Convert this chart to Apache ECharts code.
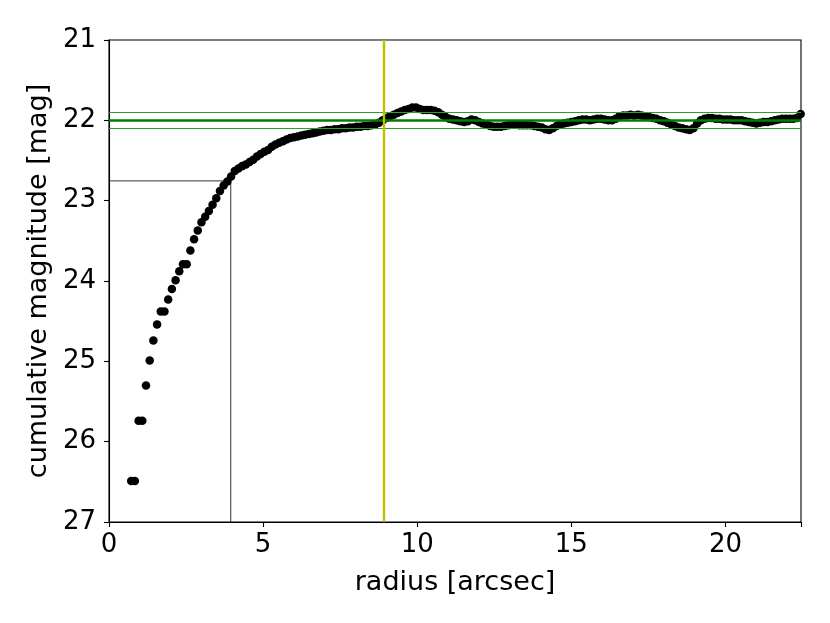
<!DOCTYPE html>
<html>
<head>
<meta charset="utf-8">
<script src="https://cdn.jsdelivr.net/npm/echarts@6/dist/echarts.min.js"></script>
<style>
html,body{margin:0;padding:0;background:#fff;}
#chart{width:830px;height:623px;}
</style>
</head>
<body>
<div id="chart"></div>
<script>
// radius [arcsec]
const radius = [
 0.72,0.84,0.96,1.08,1.20,1.32,1.44,1.56,1.68,1.80,1.92,2.04,2.16,2.28,2.40,2.52,2.64,2.76,2.88,3.00,
 3.12,3.24,3.36,3.48,3.60,3.72,3.84,3.96,4.08,4.20,4.32,4.44,4.56,4.68,4.80,4.92,5.04,5.16,5.28,5.40,
 5.52,5.64,5.76,5.88,6.00,6.12,6.24,6.36,6.48,6.60,6.72,6.84,6.96,7.08,7.20,7.32,7.44,7.56,7.68,7.80,
 7.92,8.04,8.16,8.28,8.40,8.52,8.64,8.76,8.88,9.00,9.12,9.24,9.36,9.48,9.60,9.72,9.84,9.96,10.08,10.20,
 10.32,10.44,10.56,10.68,10.80,10.92,11.04,11.16,11.28,11.40,11.52,11.64,11.76,11.88,12.00,12.12,12.24,12.36,12.48,12.60,
 12.72,12.84,12.96,13.08,13.20,13.32,13.44,13.56,13.68,13.80,13.92,14.04,14.16,14.28,14.40,14.52,14.64,14.76,14.88,15.00,
 15.12,15.24,15.36,15.48,15.60,15.72,15.84,15.96,16.08,16.20,16.32,16.44,16.56,16.68,16.80,16.92,17.04,17.16,17.28,17.40,
 17.52,17.64,17.76,17.88,18.00,18.12,18.24,18.36,18.48,18.60,18.72,18.84,18.96,19.08,19.20,19.32,19.44,19.56,19.68,19.80,
 19.92,20.04,20.16,20.28,20.40,20.52,20.64,20.76,20.88,21.00,21.12,21.24,21.36,21.48,21.60,21.72,21.84,21.96,22.08,22.20,
 22.32,22.44
];
// cumulative magnitude [mag]
const cumMag = [
 26.49,26.49,25.74,25.74,25.30,24.99,24.74,24.54,24.38,24.38,24.23,24.10,23.99,23.88,23.79,23.79,23.62,23.48,23.37,23.27,
 23.20,23.13,23.05,22.97,22.88,22.81,22.76,22.70,22.63,22.60,22.57,22.55,22.52,22.49,22.45,22.42,22.39,22.37,22.33,22.30,
 22.28,22.26,22.24,22.22,22.21,22.20,22.19,22.18,22.17,22.16,22.15,22.14,22.13,22.12,22.12,22.11,22.11,22.10,22.10,22.09,
 22.09,22.08,22.08,22.07,22.07,22.06,22.05,22.03,22.00,21.97,21.95,21.93,21.91,21.89,21.87,21.86,21.84,21.84,21.86,21.87,
 21.87,21.87,21.88,21.90,21.93,21.96,21.98,21.99,22.00,22.01,22.02,22.01,21.99,22.00,22.02,22.04,22.05,22.07,22.08,22.08,
 22.08,22.07,22.06,22.05,22.05,22.06,22.06,22.06,22.06,22.07,22.08,22.09,22.11,22.12,22.10,22.07,22.05,22.04,22.03,22.02,
 22.01,22.00,21.99,21.99,22.00,21.99,21.98,21.98,21.99,22.00,22.00,21.98,21.95,21.94,21.94,21.93,21.94,21.93,21.94,21.95,
 21.96,21.97,21.98,22.00,22.01,22.03,22.05,22.07,22.09,22.10,22.11,22.12,22.10,22.04,22.00,21.98,21.97,21.97,21.98,21.98,
 21.99,21.99,21.99,22.00,22.00,22.00,22.01,22.02,22.03,22.04,22.03,22.02,22.02,22.01,22.00,21.99,21.98,21.98,21.98,21.98,
 21.97,21.92
];
// reference levels
const totalMag = 22.0;
const magBand = [21.9, 22.1];
const outerRadius = 8.9;
const halfRadius = 3.95;
const halfMag = 22.754;
// axes
const xRange = [0, 22.45];
const yRange = [21, 27];
const xTicks = [0, 5, 10, 15, 20];
const yTicks = [21, 22, 23, 24, 25, 26, 27];

const points = radius.map((r, i) => [r, cumMag[i]]);
const font = 'DejaVu Sans';
const fs = 26;
const nfs = 27;

const chart = echarts.init(document.getElementById('chart'), null, {renderer: 'canvas'});
chart.setOption({
  animation: false,
  backgroundColor: '#ffffff',
  grid: {left: 109, right: 29, top: 40, bottom: 101, show: true, borderColor: '#000', borderWidth: 1.1, backgroundColor: 'transparent'},
  xAxis: {
    type: 'value', min: xRange[0], max: xRange[1], interval: 5,
    name: 'radius [arcsec]', nameLocation: 'middle', nameGap: 47,
    nameTextStyle: {fontFamily: font, fontSize: nfs, color: '#000'},
    axisLine: {show: true, onZero: false, lineStyle: {color: '#000', width: 1.1}},
    axisTick: {show: true, inside: false, length: 5, lineStyle: {color: '#000', width: 1.1}},
    axisLabel: {fontFamily: font, fontSize: fs, color: '#000', margin: 10,
      formatter: v => xTicks.includes(v) ? String(v) : ''},
    splitLine: {show: false}
  },
  yAxis: {
    type: 'value', inverse: true, min: yRange[0], max: yRange[1], interval: 1,
    name: 'cumulative magnitude [mag]', nameLocation: 'middle', nameGap: 48, nameRotate: 90,
    nameTextStyle: {fontFamily: font, fontSize: nfs, color: '#000'},
    axisLine: {show: true, onZero: false, lineStyle: {color: '#000', width: 1.1}},
    axisTick: {show: true, inside: false, length: 5, lineStyle: {color: '#000', width: 1.1}},
    axisLabel: {fontFamily: font, fontSize: fs, color: '#000', margin: 13,
      formatter: v => yTicks.includes(v) ? String(v) : ''},
    splitLine: {show: false}
  },
  series: [
    {
      type: 'scatter', data: points, symbol: 'circle', symbolSize: 8.5,
      itemStyle: {color: '#000', opacity: 1}, z: 2, silent: true
    },
    {
      type: 'line', data: [[xRange[0], halfMag], [halfRadius, halfMag], [halfRadius, yRange[1]]],
      showSymbol: false, symbol: 'none', lineStyle: {color: '#000', width: 0.8}, z: 1, silent: true
    },
    {
      type: 'line', data: [], z: 3, silent: true,
      markLine: {
        silent: true, symbol: 'none', label: {show: false}, animation: false,
        data: [
          {yAxis: magBand[0], lineStyle: {color: '#2ca02c', width: 1.2, type: 'solid'}},
          {yAxis: magBand[1], lineStyle: {color: '#2ca02c', width: 1.2, type: 'solid'}},
          {yAxis: totalMag, lineStyle: {color: '#008000', width: 2.6, type: 'solid'}},
          {xAxis: outerRadius, lineStyle: {color: '#bfbf00', width: 2.4, type: 'solid'}}
        ]
      }
    }
  ]
});
</script>
</body>
</html>
